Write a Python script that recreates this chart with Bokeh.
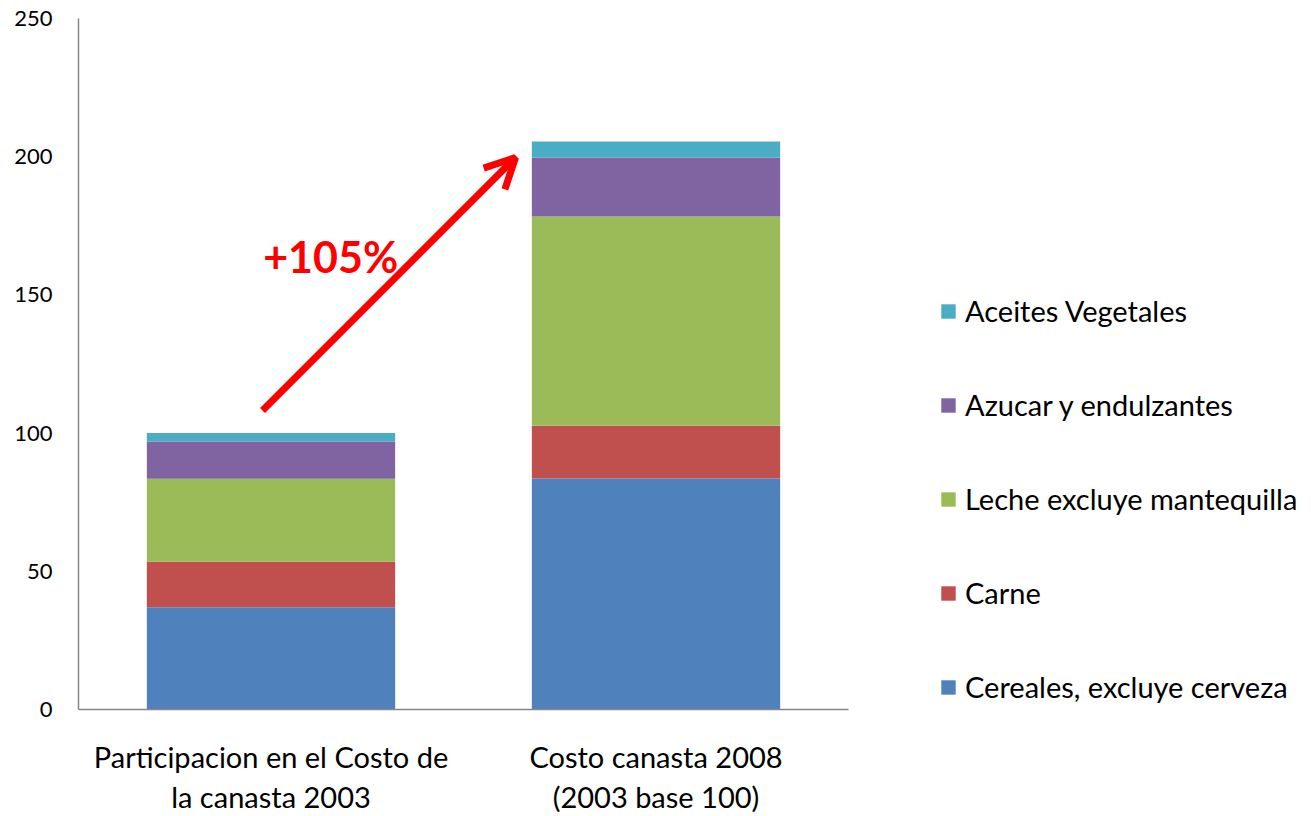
from bokeh.plotting import figure
from bokeh.models import Legend, LegendItem, Arrow, OpenHead, Label, Range1d, FixedTicker
from bokeh.embed import file_html
from bokeh.resources import INLINE

categories = ["Participacion en el Costo de\nla canasta 2003", "Costo canasta 2008\n(2003 base 100)"]
series = ["Cereales, excluye cerveza", "Carne", "Leche excluye mantequilla", "Azucar y endulzantes", "Aceites Vegetales"]
cereales = [37.0, 83.6]
carne = [16.5, 19.1]
leche = [30.0, 75.7]
azucar = [13.5, 21.3]
aceites = [3.0, 5.8]
colors = ["#4F81BD", "#C0504D", "#9BBB59", "#8064A2", "#4BACC6"]
y_ticks = [0, 50, 100, 150, 200, 250]
annotation_text = "+105%"

FONT = "Lato"
W, H = 1311, 816
LEFT, TOP, BOTTOM = 78, 18, 107
AXIS_W = 770  # pixel length of the category axis
FRAME_W = W - LEFT
n = len(categories)
x_end = n * FRAME_W / AXIS_W
x_pos = [i + 0.5 for i in range(n)]

data = dict(x=x_pos, s0=cereales, s1=carne, s2=leche, s3=azucar, s4=aceites)

p = figure(x_range=Range1d(0, x_end), y_range=Range1d(0, 250),
           width=W, height=H, output_backend="svg", toolbar_location=None,
           min_border_left=LEFT, min_border_right=0, min_border_top=TOP, min_border_bottom=BOTTOM)

renderers = p.vbar_stack(["s0", "s1", "s2", "s3", "s4"], x="x", width=0.645, color=colors,
                         line_color=None, source=data)

p.xgrid.visible = False
p.ygrid.visible = False
p.outline_line_color = None

for ax in (p.xaxis[0], p.yaxis[0]):
    ax.axis_line_color = "#868686"
    ax.axis_line_width = 1.5
    ax.major_tick_line_color = None
    ax.minor_tick_line_color = None
    ax.major_tick_out = 0
    ax.major_tick_in = 0
    ax.major_label_text_font = FONT
    ax.major_label_text_color = "#000000"

p.yaxis.ticker = FixedTicker(ticks=y_ticks)
p.yaxis.major_label_text_font_size = "22px"
p.yaxis.major_label_standoff = 26

p.xaxis.bounds = (0, n)
p.xaxis.ticker = FixedTicker(ticks=x_pos)
p.xaxis.major_label_overrides = {x: c for x, c in zip(x_pos, categories)}
p.xaxis.major_label_text_font_size = "29px"
p.xaxis.major_label_standoff = 29
p.xaxis.major_label_text_line_height = 1.15

items = [LegendItem(label=series[i], renderers=[renderers[i]]) for i in reversed(range(5))]
legend = Legend(items=items, location=(861, 5), orientation="vertical",
                label_text_font=FONT, label_text_font_size="29px", label_text_color="#000000",
                glyph_width=18, glyph_height=18, label_height=20, spacing=59, label_standoff=8,
                padding=0, margin=0, border_line_alpha=0, background_fill_alpha=0)
p.add_layout(legend, "center")

arrow = Arrow(end=OpenHead(line_color="#FF0000", line_width=7, size=30),
              x_start=0.478, y_start=108.2, x_end=1.135, y_end=199.7,
              line_color="#FF0000", line_width=7)
p.add_layout(arrow)

lbl = Label(x=0.655, y=163.9, text=annotation_text, text_font=FONT, text_font_style="bold",
            text_font_size="43px", text_color="#FF0000", text_align="center", text_baseline="middle")
p.add_layout(lbl)

open("out.html", "w").write(file_html(p, INLINE))
